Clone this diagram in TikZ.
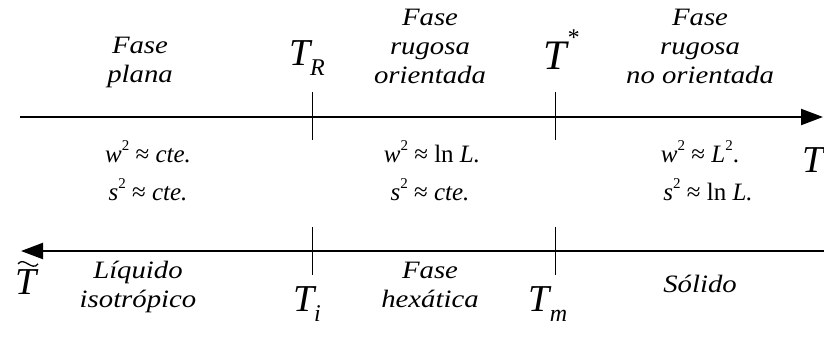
\documentclass[tikz,border=0pt]{standalone}
\usepackage{fontspec}
\setmainfont{Liberation Serif}
\newfontfamily\widefont[FakeStretch=1.15]{Liberation Serif}
\usetikzlibrary{arrows.meta,positioning}
\tikzset{
  axis/.style  = {line width=2.2pt, -{Triangle[length=22pt,width=16pt]}},
  tickln/.style = {line width=0.9pt},
  phase/.style = {font=\widefont\fontsize{25}{29}\selectfont\itshape, align=center, inner sep=0pt, anchor=base},
  law/.style   = {font=\fontsize{25}{27}\selectfont, inner sep=0pt, anchor=base},
  temp/.style  = {font=\fontsize{38}{38}\selectfont\itshape, inner sep=0pt, anchor=base},
}
\newcommand{\lowidx}[1]{\raisebox{-0.28em}{\fontsize{24}{24}\selectfont\itshape #1}}
\newcommand{\highidx}[1]{\raisebox{0.55em}{\fontsize{24}{24}\selectfont #1}}
\newcommand{\sq}{\raisebox{0.45em}{\fontsize{15}{15}\selectfont 2}}

\begin{document}
\begin{tikzpicture}[x=1pt, y=-1pt]
  \useasboundingbox (0,0) rectangle (824,349);
  % ejes
  \coordinate (a0) at (20,117);
  \coordinate (a1) at (823,117);
  \coordinate (b0) at (824,251);
  \coordinate (b1) at (21,251);
  \draw[axis] (a0) -- (a1);
  \draw[axis] (b0) -- (b1);
  % marcas
  \foreach \xx/\nm in {312/R, 555/S}{
    \coordinate (tu\nm) at (\xx,92);
    \coordinate (td\nm) at (\xx,140);
    \coordinate (bu\nm) at (\xx,227);
    \coordinate (bd\nm) at (\xx,275);
    \draw[tickln] (tu\nm) -- (td\nm);
    \draw[tickln] (bu\nm) -- (bd\nm);
  }
  % fases de arriba
  \node[phase] (plana) at (140,82) {Fase\\plana};
  \node[phase] (orient) at (430,83) {Fase\\rugosa\\orientada};
  \node[phase] (noorient) at (700,83) {Fase\\rugosa\\no orientada};
  \node[temp] (TR) at (307,65) {T\lowidx{R}};
  \node[temp, font=\fontsize{42}{42}\selectfont\itshape] (Tstar) at (561,69) {T\highidx{*}};
  \node[temp] (Tup) at (813,172) {T};
  % leyes
  \node[law] (w1) at (148,162) {\textit{w}\sq\ ≈ \textit{cte.}};
  \node[law] (s1) at (148,200) {\textit{s}\sq\ ≈ \textit{cte.}};
  \node[law] (w2) at (432,162) {\textit{w}\sq\ ≈ ln \textit{L.}};
  \node[law] (s2) at (430,200) {\textit{s}\sq\ ≈ \textit{cte.}};
  \node[law] (w3) at (700,162) {\textit{w}\sq\ ≈ \textit{L}\sq.};
  \node[law] (s3) at (708,200) {\textit{s}\sq\ ≈ ln \textit{L.}};
  % fases de abajo
  \node[temp] (Ttil) at (26,294) {T};
  \draw[line width=1.3pt] ([xshift=-8pt,yshift=5pt]Ttil.north) .. controls +(6,-8) and +(-6,8) .. ([xshift=12pt,yshift=5pt]Ttil.north);
  \node[phase] (liq) at (138,307) {Líquido\\isotrópico};
  \node[phase] (hexa) at (430,307) {Fase\\hexática};
  \node[phase] (sol) at (700,292) {Sólido};
  \node[temp] (Ti) at (307,311) {T\lowidx{i}};
  \node[temp] (Tm) at (548,311) {T\lowidx{m}};
\end{tikzpicture}
\end{document}
